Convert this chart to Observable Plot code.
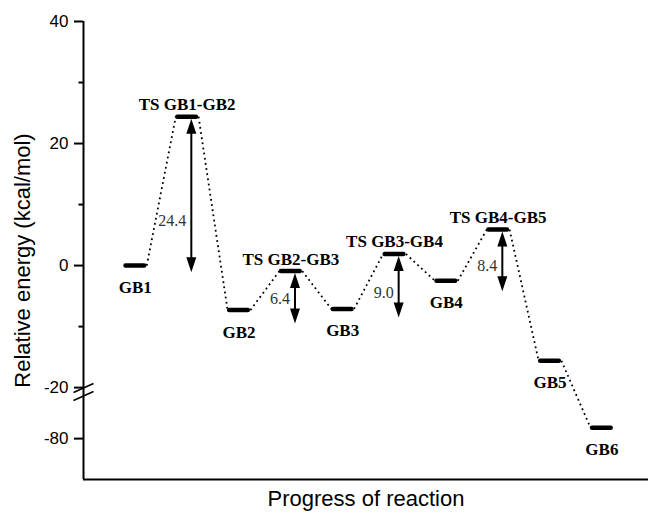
<!DOCTYPE html>
<html><head><meta charset="utf-8">
<script src="https://cdn.jsdelivr.net/npm/d3@7"></script>
<script src="https://cdn.jsdelivr.net/npm/@observablehq/plot@0.6"></script>
<style>
html,body{margin:0;padding:0;background:#fff;}
#chart svg{display:block;}
</style></head><body><div id="chart"></div>
<script>
// ---- data ----
const states = ["GB1","TS GB1-GB2","GB2","TS GB2-GB3","GB3","TS GB3-GB4","GB4","TS GB4-GB5","GB5","GB6"];
const energies = [0, 24.4, -7.3, -0.9, -7.1, 1.9, -2.5, 5.9, -15.6, -78.2];
const barrierTS = ["TS GB1-GB2","TS GB2-GB3","TS GB3-GB4","TS GB4-GB5"];
const barrierValues = [24.4, 6.4, 9.0, 8.4];
const arrowBottoms = [-1.1, -9.5, -8.5, -4.2];
const yTickValues = [40, 20, 0, -20, -80];
const yMinorTicks = [30, 10, -10];
const yDomain = [-86.7, 40];
const yBreak = -20;        // axis is broken between -20 and -80
const breakShift = 51.64;  // compression of the lower segment
const xTitle = "Progress of reaction";
const yTitle = "Relative energy (kcal/mol)";

// ---- derived ----
const disp = v => v >= yBreak - 1 ? v : v + breakShift;
const hw = 0.18;
const levels = states.map((s, i) => ({s, i, e: energies[i], y: disp(energies[i]), ts: s.startsWith("TS")}));
const links = levels.slice(1).map((d, k) => ({x1: levels[k].i + hw + 0.04, y1: levels[k].y, x2: d.i - hw - 0.04, y2: d.y}));
const arrows = barrierTS.map((t, k) => {
  const L = levels.find(d => d.s === t);
  return {x: L.i + 0.08, top: L.y, bottom: disp(arrowBottoms[k]), label: barrierValues[k].toFixed(1), ly: L.e - 0.7 * barrierValues[k]};
});
const tickMap = new Map(yTickValues.map(v => [disp(v), v]));

const headUp = {draw(c){c.moveTo(0,0);c.lineTo(5,15);c.lineTo(-5,15);c.closePath();}};
const headDown = {draw(c){c.moveTo(0,0);c.lineTo(5,-15);c.lineTo(-5,-15);c.closePath();}};
const breakSym = {draw(c){c.moveTo(-10,0);c.lineTo(10,-9);c.moveTo(-10,8);c.lineTo(10,-1);}};

const sans = "'Liberation Sans', Arial, sans-serif";
const serif = "'Liberation Serif', 'Times New Roman', serif";

const chart = Plot.plot({
  width: 648, height: 516,
  marginLeft: 83, marginRight: 0, marginTop: 21, marginBottom: 37,
  x: {domain: [-1, 9.9], axis: null},
  y: {domain: yDomain.map(disp), axis: null},
  style: {fontFamily: sans, background: "white", color: "black", overflow: "visible"},
  marks: [
    Plot.ruleX([-1], {strokeWidth: 2}),
    Plot.ruleY([disp(yDomain[0])], {strokeWidth: 2}),
    Plot.axisY(yTickValues.map(disp), {anchor: "left", tickSize: 9, tickPadding: 6, fontSize: 17, strokeWidth: 2,
      tickFormat: d => String(tickMap.get(d)), label: null}),
    Plot.axisY(yMinorTicks, {anchor: "left", tickSize: 4.5, strokeWidth: 2, tickFormat: () => "", label: null}),
    Plot.dot([{x: -1, y: disp(yBreak - 0.8)}], {x: "x", y: "y", symbol: breakSym, fill: "none", stroke: "black", strokeWidth: 1.6}),
    Plot.link(links, {x1: "x1", y1: "y1", x2: "x2", y2: "y2", stroke: "black", strokeWidth: 1.8, strokeDasharray: "1.8,3.4"}),
    Plot.ruleY(levels, {y: "y", x1: d => d.i - hw, x2: d => d.i + hw, strokeWidth: 4.5, strokeLinecap: "round"}),
    Plot.ruleX(arrows, {x: "x", y1: "top", y2: "bottom", strokeWidth: 2, insetTop: 8, insetBottom: 8}),
    Plot.dot(arrows, {x: "x", y: "top", symbol: headUp, fill: "black", stroke: null, dy: 2}),
    Plot.dot(arrows, {x: "x", y: "bottom", symbol: headDown, fill: "black", stroke: null}),
    Plot.text(arrows, {x: "x", y: d => disp(d.ly), text: "label", textAnchor: "end", dx: -5, fontFamily: serif, fontSize: 16, fill: "#333"}),
    Plot.text(levels.filter(d => d.ts), {x: "i", y: "y", text: "s", dy: -12, fontFamily: serif, fontWeight: "bold", fontSize: 17}),
    Plot.text(levels.filter(d => !d.ts), {x: "i", y: "y", text: "s", dy: 22, fontFamily: serif, fontWeight: "bold", fontSize: 17}),
    Plot.text([xTitle], {frameAnchor: "bottom", dy: 26, fontSize: 22}),
    Plot.text([yTitle], {frameAnchor: "left", textAnchor: "middle", rotate: -90, dx: -61, dy: 10, fontSize: 22})
  ]
});
document.getElementById("chart").appendChild(chart);
</script></body></html>
